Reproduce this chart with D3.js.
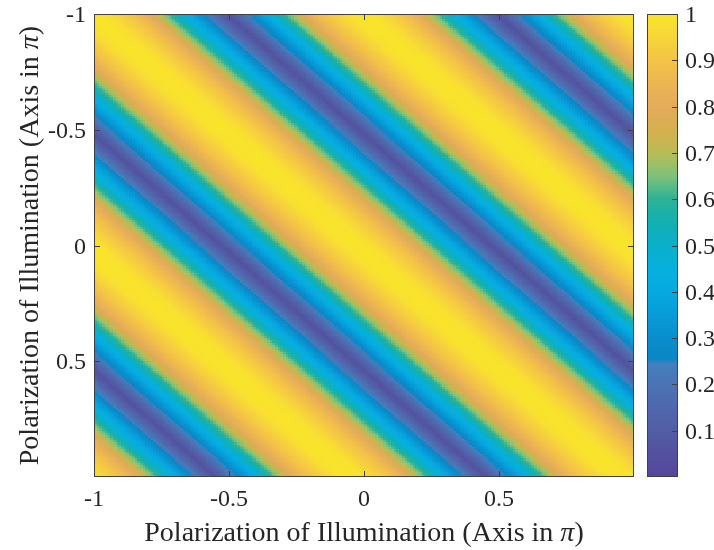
<!DOCTYPE html>
<html>
<head>
<meta charset="utf-8">
<script src="https://cdn.jsdelivr.net/npm/d3@7"></script>
</head>
<body style="margin:0;background:#fff">
<div id="wrap" style="position:relative;width:714px;height:550px">
  <canvas id="heat" style="position:absolute;left:0;top:0"></canvas>
  <svg id="chart" width="714" height="550" style="position:absolute;left:0;top:0;display:block"></svg>
</div>
<script>
// Axis ticks (in units of π)
const xTicks = [-1, -0.5, 0, 0.5];
const yTicks = [-1, -0.5, 0, 0.5];
const colorTicks = [0.1, 0.2, 0.3, 0.4, 0.5, 0.6, 0.7, 0.8, 0.9, 1];

// Sampling grid of the two polarization angles
const gridStep = 0.01;
const xGrid = d3.range(-1, 1 - 1e-9, gridStep);
const yGrid = d3.range(-1, 1 - 1e-9, gridStep);

// Diagonal fringe: band tilt (y weight), offset of the bright band, period
const bandTilt = 0.98;
const bandOffset = 0.03;
const bandPeriod = 1;

// Normalised intensity across one half fringe, by distance from the bright centre
const bandDistance = [0, 0.05, 0.11, 0.16, 0.204, 0.25, 0.296, 0.352, 0.40, 0.44, 0.47, 0.5];
const bandLevel    = [1.0, 0.99, 0.93, 0.88, 0.82, 0.70, 0.58, 0.42, 0.30, 0.20, 0.12, 0.05];

// Colour map stops
const cmapValues = [0, 0.05, 0.1, 0.15, 0.2, 0.245, 0.255, 0.3, 0.35, 0.4, 0.45, 0.5, 0.55, 0.6, 0.65, 0.7, 0.75, 0.8, 0.85, 0.9, 0.95, 1];
const cmapColors = ["#55469b", "#54519f", "#525da6", "#4f68ad", "#4b73b5", "#437fbd", "#0a86c4", "#0a8ecd", "#079cd8", "#05aae0", "#06b0de", "#0aafcb", "#12b0b2", "#2cb296", "#7fc27a", "#b8bc55", "#d5b04f", "#e3ab5b", "#ecb552", "#f4c445", "#f7d53a", "#f9e42b"];

const plot = { left: 94, top: 14, right: 634, bottom: 477 };
const cbar = { left: 647, right: 678, top: 14, bottom: 477 };
const frameColor = "#404040";
const textColor = "#262626";
const fontStack = '"Times New Roman", "Liberation Serif", "Tinos", serif';

const svg = d3.select("#chart");

const x = d3.scaleLinear().domain([-1, 1]).range([plot.left, plot.right]);
const y = d3.scaleLinear().domain([-1, 1]).range([plot.top, plot.bottom]);
const cy = d3.scaleLinear().domain([0, 1]).range([cbar.bottom, cbar.top]);
const level = d3.scaleLinear().domain(bandDistance).range(bandLevel).clamp(true);
const color = d3.scaleLinear().domain(cmapValues).range(cmapColors).interpolate(d3.interpolateRgb).clamp(true);

// Tick labels
const tickFont = 24;
svg.append("g").selectAll("text").data(xTicks).join("text")
  .style("font-family", fontStack).attr("fill", textColor)
  .attr("x", d => x(d)).attr("y", 506)
  .attr("text-anchor", "middle").attr("font-size", tickFont)
  .text(d => String(d));
svg.append("g").selectAll("text").data(yTicks).join("text")
  .style("font-family", fontStack).attr("fill", textColor)
  .attr("x", 86).attr("y", d => y(d) + 8)
  .attr("text-anchor", "end").attr("font-size", tickFont)
  .text(d => String(d));
svg.append("g").selectAll("text").data(colorTicks).join("text")
  .style("font-family", fontStack).attr("fill", textColor)
  .attr("x", 685).attr("y", d => cy(d) + 8)
  .attr("font-size", tickFont)
  .text(d => String(d));

// Axis titles
const labelFont = 28;
function title(sel) {
  sel.style("font-family", fontStack).attr("fill", textColor)
    .attr("text-anchor", "middle").attr("font-size", labelFont);
  sel.append("tspan").text("Polarization of Illumination (Axis in ");
  sel.append("tspan").attr("font-style", "italic").text("π");
  sel.append("tspan").text(")");
}
svg.append("text")
  .attr("x", (plot.left + plot.right) / 2).attr("y", 541)
  .call(title);
svg.append("text")
  .attr("transform", `translate(38,${(plot.top + plot.bottom) / 2}) rotate(-90)`)
  .call(title);

// Heat map cells on the canvas under the SVG
function cellValue(px, py) {
  let p = ((px - bandTilt * py + bandOffset) / bandPeriod) % 1;
  if (p < 0) p += 1;
  const d = Math.min(p, 1 - p);
  return level(d);
}
const canvas = document.getElementById("heat");
canvas.width = 714; canvas.height = 550;
const ctx = canvas.getContext("2d");
xGrid.forEach(gx => {
  const x0 = Math.round(x(gx));
  const x1 = Math.round(x(gx + gridStep));
  yGrid.forEach(gy => {
    const y0 = Math.round(y(gy));
    const y1 = Math.round(y(gy + gridStep));
    ctx.fillStyle = color(cellValue(gx, gy));
    ctx.fillRect(x0, y0, Math.max(1, x1 - x0), Math.max(1, y1 - y0));
  });
});

// Frame with inward ticks on all four sides
const tickLen = 6;
const pw = plot.right - plot.left, ph = plot.bottom - plot.top;
const frame = svg.append("g").attr("stroke", frameColor).attr("stroke-width", 1).attr("fill", "none");
frame.append("rect")
  .attr("x", plot.left + 0.5).attr("y", plot.top + 0.5)
  .attr("width", pw - 1).attr("height", ph - 1);
xTicks.forEach(t => {
  const px = Math.round(x(t)) + 0.5;
  frame.append("line").attr("x1", px).attr("x2", px).attr("y1", plot.bottom).attr("y2", plot.bottom - tickLen);
  frame.append("line").attr("x1", px).attr("x2", px).attr("y1", plot.top).attr("y2", plot.top + tickLen);
});
yTicks.forEach(t => {
  const py = Math.round(y(t)) + 0.5;
  frame.append("line").attr("y1", py).attr("y2", py).attr("x1", plot.left).attr("x2", plot.left + tickLen);
  frame.append("line").attr("y1", py).attr("y2", py).attr("x1", plot.right).attr("x2", plot.right - tickLen);
});

// Colour bar
const grad = svg.append("defs").append("linearGradient")
  .attr("id", "cmap").attr("x1", 0).attr("x2", 0).attr("y1", 1).attr("y2", 0);
cmapValues.forEach((v, i) => grad.append("stop").attr("offset", v).attr("stop-color", cmapColors[i]));
svg.insert("rect", ":first-child")
  .attr("x", cbar.left).attr("y", cbar.top)
  .attr("width", cbar.right - cbar.left).attr("height", cbar.bottom - cbar.top)
  .attr("fill", "url(#cmap)");
frame.append("rect")
  .attr("x", cbar.left + 0.5).attr("y", cbar.top + 0.5)
  .attr("width", cbar.right - cbar.left - 1).attr("height", cbar.bottom - cbar.top - 1);
colorTicks.forEach(t => {
  const py = Math.round(cy(t)) + 0.5;
  frame.append("line")
    .attr("x1", cbar.right).attr("x2", cbar.right - tickLen).attr("y1", py).attr("y2", py);
});
</script>
</body>
</html>
